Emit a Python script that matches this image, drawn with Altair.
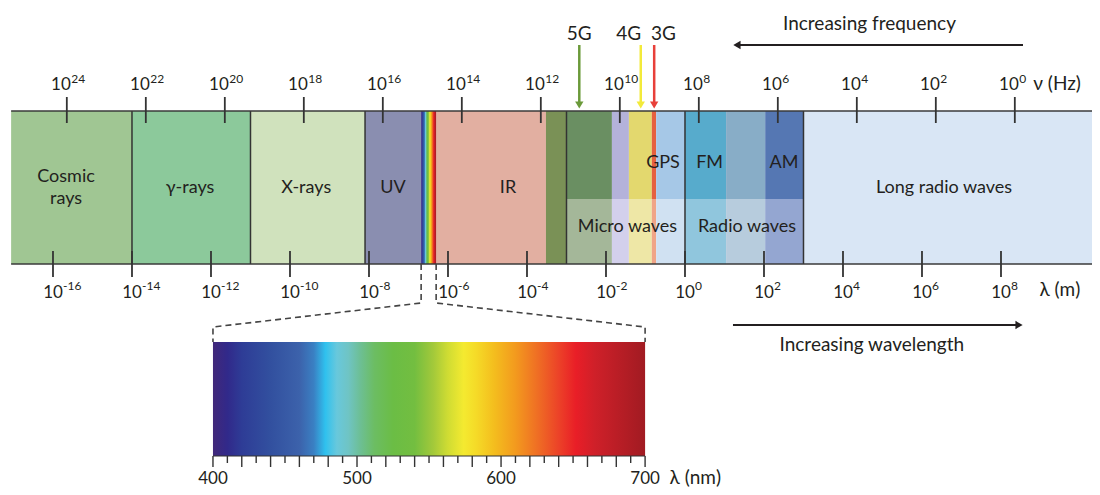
import altair as alt
import pandas as pd

# ---------------- data ----------------
# bottom axis: wavelength exponents, 10^e m
WAVE_EXP = [-16, -14, -12, -10, -8, -6, -4, -2, 0, 2, 4, 6, 8]
# top axis: frequency exponents, 10^e Hz
FREQ_EXP = [24, 22, 20, 18, 16, 14, 12, 10, 8, 6, 4, 2, 0]
FREQ_TO_WAVE = 8.35  # as drawn: log10(lambda) = 8.35 - log10(nu)

# full-height regions (log10 wavelength, m)
REGION_START = [-17.06, -14.0, -11.0, -8.1, -6.30, -3.52]
REGION_END = [-14.0, -11.0, -8.1, -6.68, -3.52, -3.0]
REGION_COLOR = ["#a0c693", "#8cc99b", "#d0e2bd", "#8a8eb0", "#e2afa1", "#7a9156"]

# two-tone microwave / radio sub-bands
SUB_START = [-3.0, -1.85, -1.42, -0.84, -0.73, 0.0, 1.04, 2.03]
SUB_END = [-1.85, -1.42, -0.84, -0.73, 0.0, 1.04, 2.03, 3.0]
SUB_TOP = ["#6a8f62", "#b4b2da", "#e3d86e", "#e5603f", "#a6c8e7", "#57abcc", "#88adc7", "#5577b3"]
SUB_BOTTOM = ["#a4b799", "#d3d0ec", "#eee7a6", "#f0a487", "#d0e1f2", "#90c6dd", "#b7ccdd", "#94a6d1"]

LONG_START = 3.0
LONG_COLOR = "#d9e6f5"
VISIBLE_START, VISIBLE_END = -6.68, -6.30
BORDERS = [-14.0, -11.0, -8.1, -3.0, 0.0, 3.0]

BAND_TEXT = ["Cosmic", "rays", "γ-rays", "X-rays", "UV", "IR", "GPS", "FM", "AM",
             "Long radio waves", "Micro waves", "Radio waves"]
BAND_TEXT_POS = [-15.67, -15.67, -12.53, -9.59, -7.39, -4.48, -0.557, 0.623, 2.506,
                 6.557, -1.456, 1.57]
BAND_TEXT_ROW = ["r1", "r2", "mid", "mid", "mid", "mid", "upper", "upper", "upper",
                 "mid", "lower", "lower"]

# mobile bands
MOBILE = ["5G", "4G", "3G"]
MOBILE_ARROW = [-2.676, -1.12, -0.78]
MOBILE_LABEL = [-2.676, -1.425, -0.544]
MOBILE_COLOR = ["#6b9a3a", "#f3ea3a", "#e8403a"]

ARROW_SPAN = [1.215, 8.557]

# visible spectrum (nm)
NM_TICKS = list(range(400, 701, 10))
NM_LABELS = [400, 500, 600, 700]
SPEC_NM = [400, 410, 420, 440, 460, 470, 478, 486, 494, 502, 512, 525, 540, 553,
           563, 574, 582, 595, 610, 625, 640, 652, 665, 700]
SPEC_COLOR = ["#41287a", "#31298a", "#2e3c96", "#32509f", "#3c62ab", "#3a80c3",
              "#2fc1ee", "#68c8dc", "#6fc4c4", "#6dbf96", "#6cbd63", "#6bbd45",
              "#73be40", "#a3c93a", "#cfdc33", "#f4ea30", "#f5dc28", "#f4be1e",
              "#f39a1e", "#ef6f24", "#ec4228", "#e91e27", "#cf2029", "#a11b22"]
SPEC_U0, SPEC_U1 = -11.95, -1.01   # where 400 nm and 700 nm sit on the main axis

# ---------------- layout ----------------
FONT = "Lato"
INK = "#231f20"
W, H = 1084, 479
X_DOMAIN = [-17.139, 10.304]
Y_DOMAIN = [0, 479]
ROW = dict(
    freq_text=16, arrow_top=37, arrow_bottom=95, arrow_head=97, mob_text=26,
    top_exp=75, top_base=82, tick_top0=89, tick_top1=115,
    band_top=103, split=191, band_bot=256,
    upper=155, r1=169, mid=180, r2=191, lower=219,
    tick_bot0=243, tick_bot1=269, bot_exp=282, bot_base=290,
    dash1=295, dash2=319, wl_arrow=317, wl_text=337,
    spec_top=334, spec_bot=448, nm_long=459, nm_short=455, nm_text=476,
)

xs = alt.Scale(domain=X_DOMAIN, nice=False, zero=False)
ys = alt.Scale(domain=Y_DOMAIN, nice=False, zero=False, reverse=True)


def X(f):
    return alt.X(f, type="quantitative", scale=xs, axis=None)


def Y(f):
    return alt.Y(f, type="quantitative", scale=ys, axis=None)


def nm_to_u(nm):
    return SPEC_U0 + (nm - 400) / 300 * (SPEC_U1 - SPEC_U0)


def rects(df, **kw):
    return alt.Chart(df).mark_rect(**kw).encode(
        x=X("u1"), x2="u2", y=Y("y1"), y2="y2",
        color=alt.Color("c:N", scale=None))


def rules(df, color=INK, width=1.6, dash=None):
    kw = dict(color=color, strokeWidth=width)
    if dash:
        kw["strokeDash"] = dash
    return alt.Chart(df).mark_rule(**kw).encode(x=X("u1"), x2="u2", y=Y("y1"), y2="y2")


def texts(df, size, align="center", baseline="middle", dx=0, color=INK):
    return alt.Chart(df).mark_text(font=FONT, fontSize=size, align=align,
                                   baseline=baseline, dx=dx, color=color).encode(
        x=X("u"), y=Y("y"), text=alt.Text("t:N"))


def gradient():
    return alt.Gradient(
        gradient="linear", x1=0, x2=1, y1=0, y2=0,
        stops=[alt.GradientStop(offset=(n - 400) / 300, color=c)
               for n, c in zip(SPEC_NM, SPEC_COLOR)])


layers = []

# full-height regions
reg = pd.DataFrame({"u1": REGION_START, "u2": REGION_END, "c": REGION_COLOR})
reg["y1"], reg["y2"] = ROW["band_top"], ROW["band_bot"]
long_df = pd.DataFrame({"u1": [LONG_START], "u2": [X_DOMAIN[1]], "c": [LONG_COLOR],
                        "y1": [ROW["band_top"]], "y2": [ROW["band_bot"]]})
top = pd.DataFrame({"u1": SUB_START, "u2": SUB_END, "c": SUB_TOP})
top["y1"], top["y2"] = ROW["band_top"], ROW["split"]
bot = pd.DataFrame({"u1": SUB_START, "u2": SUB_END, "c": SUB_BOTTOM})
bot["y1"], bot["y2"] = ROW["split"], ROW["band_bot"]
layers.append(rects(pd.concat([reg, long_df, top, bot], ignore_index=True)))

# visible strip inside the band
vis = pd.DataFrame({"u1": [VISIBLE_START], "u2": [VISIBLE_END],
                    "y1": [ROW["band_top"]], "y2": [ROW["band_bot"]]})
layers.append(alt.Chart(vis).mark_rect(color=gradient()).encode(
    x=X("u1"), x2="u2", y=Y("y1"), y2="y2"))

# borders
bd = pd.DataFrame({"u1": BORDERS, "u2": BORDERS})
bd["y1"], bd["y2"] = ROW["band_top"], ROW["band_bot"]
layers.append(rules(bd, color="#333333", width=1.5))
hz = pd.DataFrame({"u1": [REGION_START[0]] * 2, "u2": [X_DOMAIN[1]] * 2,
                   "y1": [ROW["band_top"], ROW["band_bot"]],
                   "y2": [ROW["band_top"], ROW["band_bot"]]})
layers.append(rules(hz, color="#3a3a3a", width=1.6))

# ticks
fu = [FREQ_TO_WAVE - e for e in FREQ_EXP]
tt = pd.DataFrame({"u1": fu, "u2": fu})
tt["y1"], tt["y2"] = ROW["tick_top0"], ROW["tick_top1"]
tb = pd.DataFrame({"u1": WAVE_EXP, "u2": WAVE_EXP})
tb["y1"], tb["y2"] = ROW["tick_bot0"], ROW["tick_bot1"]
layers.append(rules(pd.concat([tt, tb]), color="#333333", width=1.8))

# tick labels
layers.append(texts(pd.DataFrame({"u": fu, "y": ROW["top_base"], "t": "10"}), 17,
                    align="right", baseline="alphabetic", dx=4))
layers.append(texts(pd.DataFrame({"u": fu, "y": ROW["top_exp"], "t": [str(e) for e in FREQ_EXP]}),
                    12, align="left", baseline="alphabetic", dx=4.5))
layers.append(texts(pd.DataFrame({"u": WAVE_EXP, "y": ROW["bot_base"], "t": "10"}), 17,
                    baseline="alphabetic"))
layers.append(texts(pd.DataFrame({"u": WAVE_EXP, "y": ROW["bot_exp"], "t": [str(e) for e in WAVE_EXP]}),
                    12, align="left", baseline="alphabetic", dx=10))
layers.append(texts(pd.DataFrame({"u": [9.42], "y": [ROW["top_base"]], "t": ["ν (Hz)"]}), 19,
                    baseline="alphabetic"))
layers.append(texts(pd.DataFrame({"u": [9.49], "y": [ROW["bot_base"] - 2], "t": ["λ (m)"]}), 19,
                    baseline="alphabetic"))

# band labels
bl = pd.DataFrame({"u": BAND_TEXT_POS, "y": [ROW[r] for r in BAND_TEXT_ROW], "t": BAND_TEXT})
layers.append(texts(bl, 18))

# mobile arrows
mob = pd.DataFrame({"u1": MOBILE_ARROW, "u2": MOBILE_ARROW, "c": MOBILE_COLOR,
                    "y1": ROW["arrow_top"], "y2": ROW["arrow_bottom"]})
layers.append(alt.Chart(mob).mark_rule(strokeWidth=2.5).encode(
    x=X("u1"), x2="u2", y=Y("y1"), y2="y2", color=alt.Color("c:N", scale=None)))
mh = pd.DataFrame({"u": MOBILE_ARROW, "y": ROW["arrow_head"], "c": MOBILE_COLOR})
layers.append(alt.Chart(mh).mark_point(shape="triangle-down", filled=True, size=70, opacity=1).encode(
    x=X("u"), y=Y("y"), color=alt.Color("c:N", scale=None)))
layers.append(texts(pd.DataFrame({"u": MOBILE_LABEL, "y": ROW["mob_text"], "t": MOBILE}), 19))

# increasing frequency / wavelength arrows
fa = pd.DataFrame({"u1": [ARROW_SPAN[0] + 0.12], "u2": [ARROW_SPAN[1]],
                   "y1": [ROW["arrow_top"]], "y2": [ROW["arrow_top"]]})
layers.append(rules(fa, width=2.2))
layers.append(alt.Chart(pd.DataFrame({"u": [ARROW_SPAN[0] + 0.1], "y": [ROW["arrow_top"]]}))
              .mark_point(shape="triangle-left", filled=True, size=70, color=INK, opacity=1)
              .encode(x=X("u"), y=Y("y")))
layers.append(texts(pd.DataFrame({"u": [4.67], "y": [ROW["freq_text"]], "t": ["Increasing frequency"]}), 19))

wa = pd.DataFrame({"u1": [ARROW_SPAN[0]], "u2": [ARROW_SPAN[1] - 0.12],
                   "y1": [ROW["wl_arrow"]], "y2": [ROW["wl_arrow"]]})
layers.append(rules(wa, width=2.2))
layers.append(alt.Chart(pd.DataFrame({"u": [ARROW_SPAN[1] - 0.1], "y": [ROW["wl_arrow"]]}))
              .mark_point(shape="triangle-right", filled=True, size=70, color=INK, opacity=1)
              .encode(x=X("u"), y=Y("y")))
layers.append(texts(pd.DataFrame({"u": [4.73], "y": [ROW["wl_text"]], "t": ["Increasing wavelength"]}), 19))

# dashed zoom lines
dl = pd.DataFrame({
    "g": ["a"] * 4 + ["b"] * 4,
    "o": [0, 1, 2, 3] * 2,
    "u": [VISIBLE_START, VISIBLE_START, SPEC_U0, SPEC_U0,
          VISIBLE_END, VISIBLE_END, SPEC_U1, SPEC_U1],
    "y": [ROW["band_bot"], ROW["dash1"], ROW["dash2"], ROW["spec_top"]] * 2,
})
layers.append(alt.Chart(dl).mark_line(color="#444444", strokeWidth=1.6, strokeDash=[6, 4]).encode(
    x=X("u"), y=Y("y"), detail="g:N", order="o:Q"))

# spectrum bar
sb = pd.DataFrame({"u1": [SPEC_U0], "u2": [SPEC_U1], "y1": [ROW["spec_top"]], "y2": [ROW["spec_bot"]]})
layers.append(alt.Chart(sb).mark_rect(color=gradient()).encode(
    x=X("u1"), x2="u2", y=Y("y1"), y2="y2"))
base_line = pd.DataFrame({"u1": [SPEC_U0], "u2": [SPEC_U1],
                          "y1": [ROW["spec_bot"]], "y2": [ROW["spec_bot"]]})
layers.append(rules(base_line, color="#333333", width=1.2))
nu = [nm_to_u(n) for n in NM_TICKS]
nt = pd.DataFrame({"u1": nu, "u2": nu, "y1": ROW["spec_bot"],
                   "y2": [ROW["nm_long"] if (n - 400) % 20 == 0 else ROW["nm_short"] for n in NM_TICKS]})
layers.append(rules(nt, color="#333333", width=1.4))
layers.append(texts(pd.DataFrame({"u": [nm_to_u(n) for n in NM_LABELS], "y": ROW["nm_text"],
                                  "t": [str(n) for n in NM_LABELS]}), 17, baseline="alphabetic"))
layers.append(texts(pd.DataFrame({"u": [nm_to_u(717)], "y": [ROW["nm_text"]], "t": ["λ (nm)"]}), 19,
                    align="left", baseline="alphabetic"))

chart = alt.layer(*layers).properties(
    width=W, height=H, padding=0, autosize=alt.AutoSizeParams(type="none"),
    background="white",
).configure_view(strokeWidth=0)

chart.save("out.html", embed_options={"renderer": "svg", "actions": False})
